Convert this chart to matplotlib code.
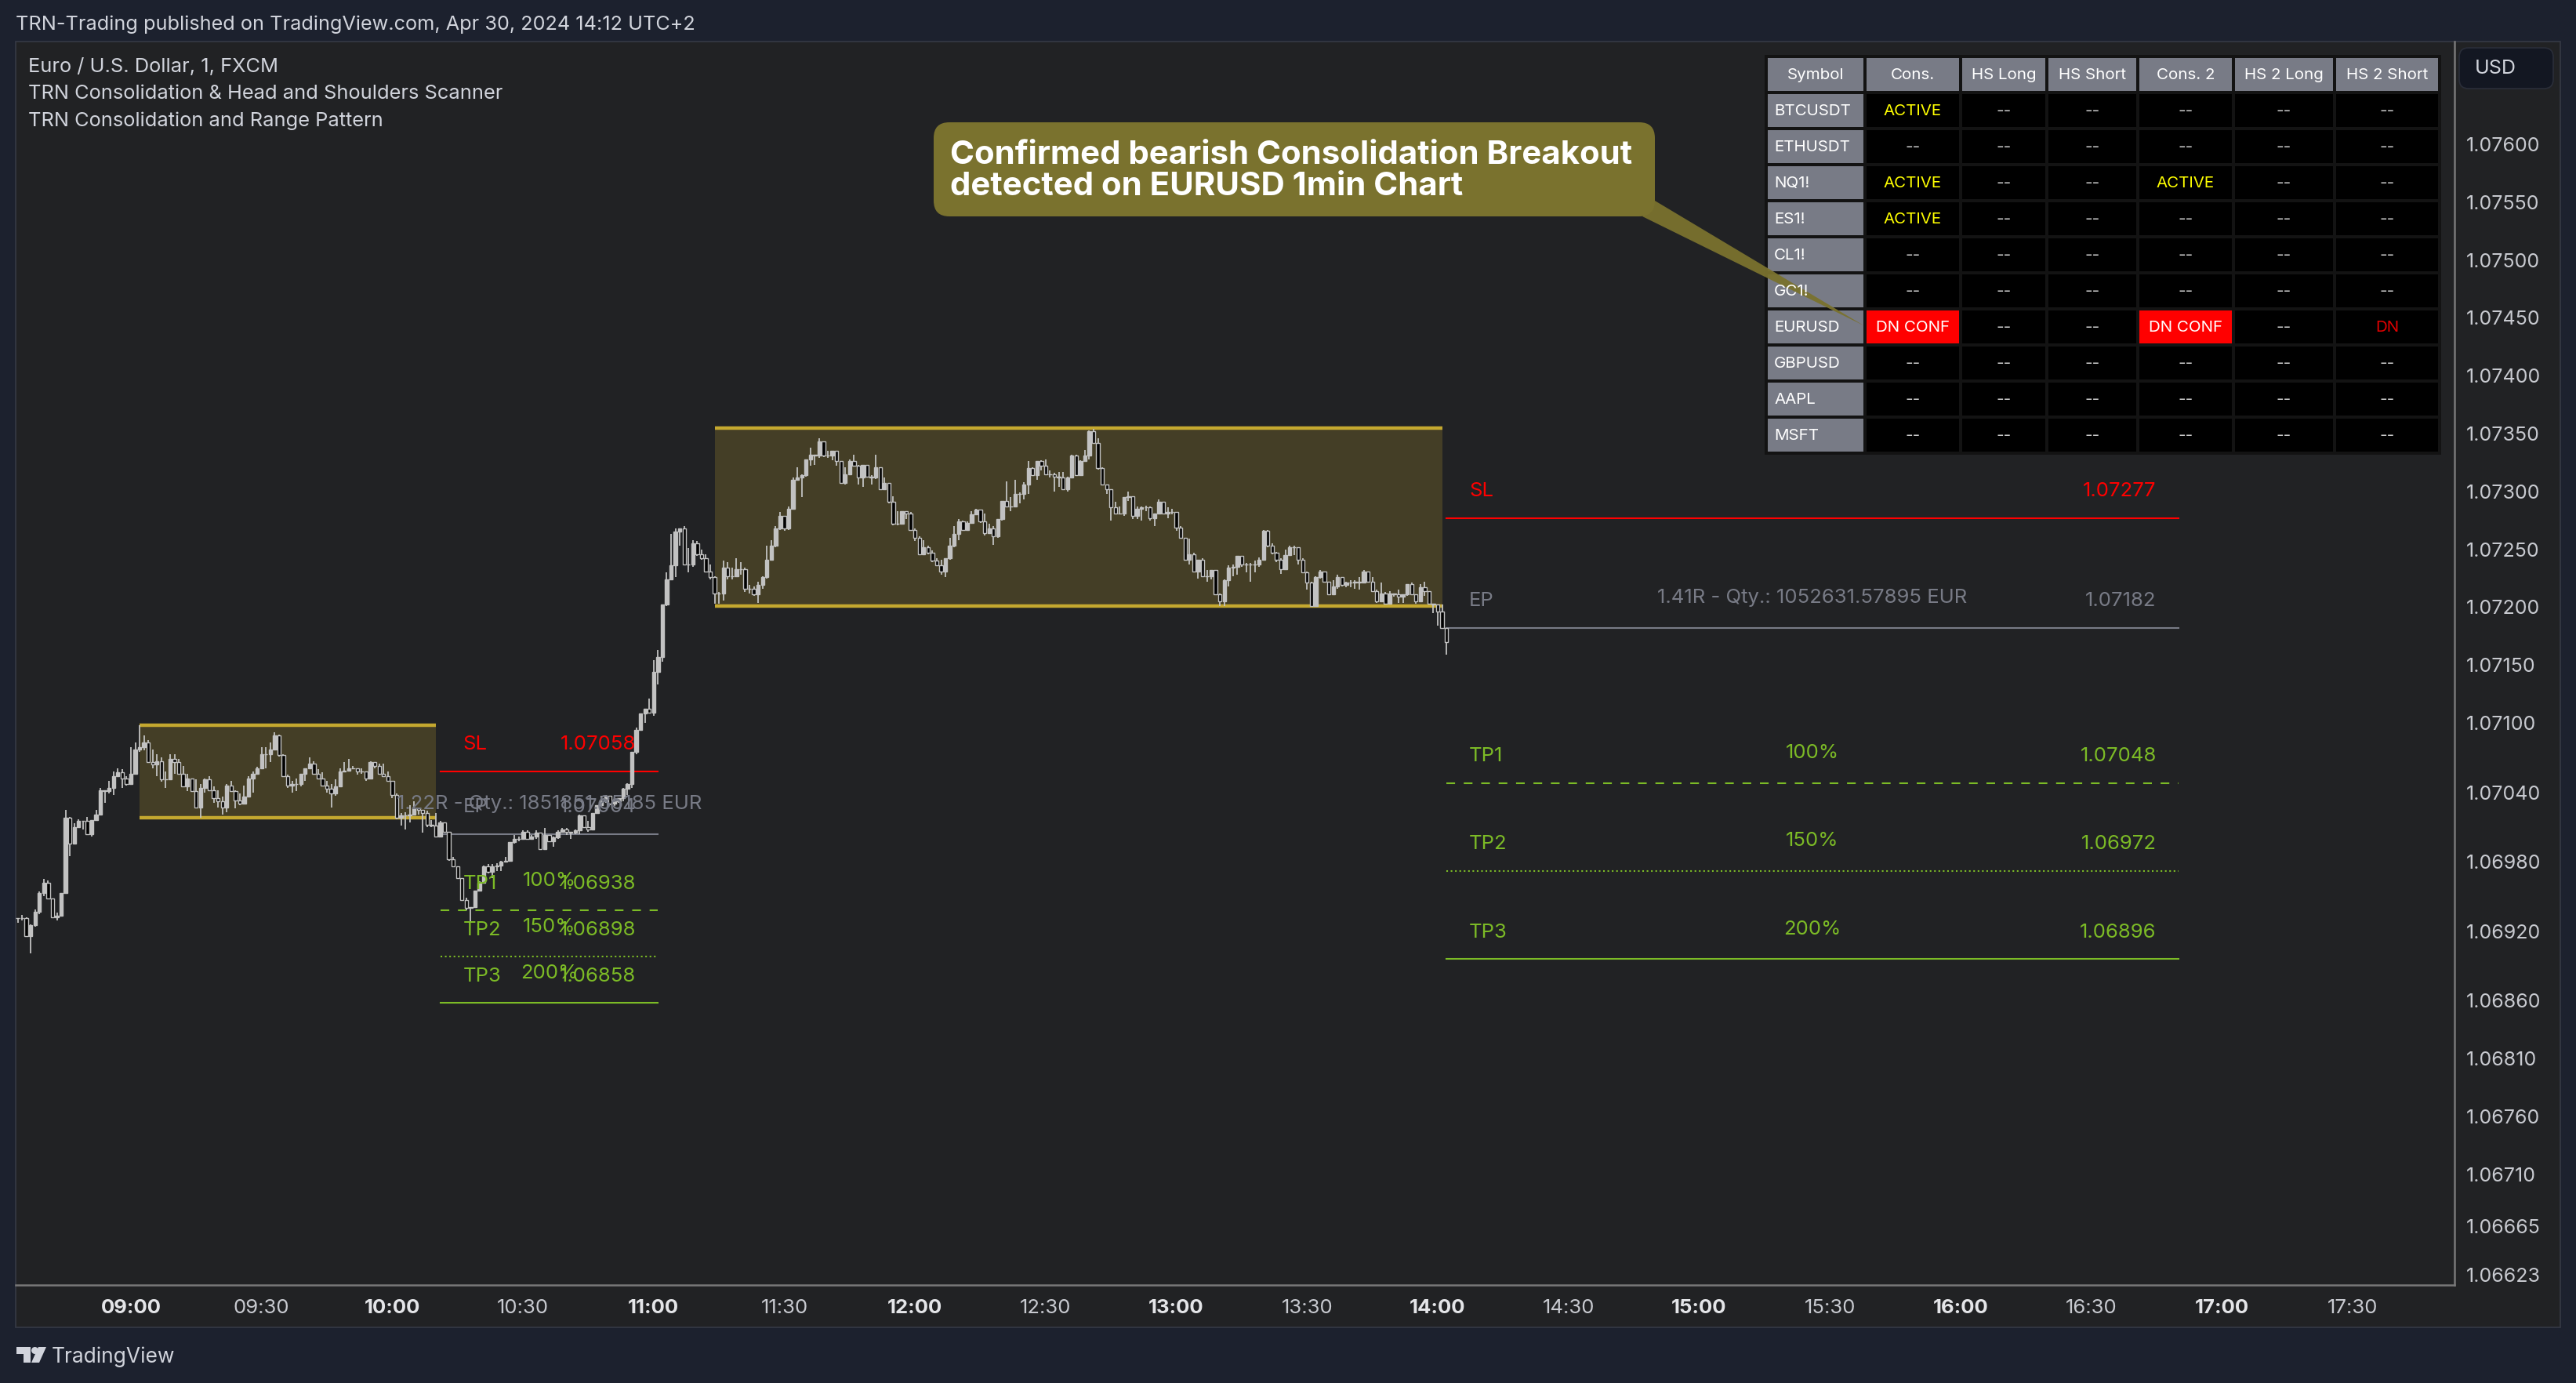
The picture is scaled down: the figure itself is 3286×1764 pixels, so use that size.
import numpy as np
import matplotlib
matplotlib.use("Agg")
import matplotlib.pyplot as plt
from matplotlib.patches import Rectangle, FancyBboxPatch, Polygon, Circle

plt.rcParams['font.family'] = ['Inter', 'DejaVu Sans']
plt.rcParams['lines.scale_dashes'] = False

# -----------------------------------------------------------------------------
# EURUSD 1 min candles. Price = 1 + value / 100000
first_minute = -26  # first candle is 08:34, minutes are counted from 09:00

closes = [
    6931,6931,6916,6925,6937,6953,6962,6948,6932,6933,
    6953,7018,6996,7010,7015,7015,7004,7016,7021,7042,
    7041,7044,7054,7057,7052,7047,7056,7077,7079,7083,
    7066,7064,7067,7051,7051,7069,7066,7056,7045,7052,
    7041,7027,7044,7051,7042,7035,7032,7027,7046,7041,
    7033,7030,7036,7052,7056,7061,7073,7073,7077,7089,
    7072,7054,7046,7047,7047,7056,7061,7065,7056,7052,
    7046,7043,7039,7045,7058,7059,7061,7061,7058,7058,
    7052,7066,7063,7056,7054,7050,7038,7018,7020,
    7020,7021,7026,7025,7022,7012,7011,7002,7014,7006,
    6982,6976,6966,6947,6940,6941,6955,6962,6976,6971,
    6976,6977,6980,6981,6997,7000,7000,7006,7000,7002,
    7005,6991,7003,6998,7001,7006,7008,7006,7005,7007,
    7020,7010,7008,7022,7029,7032,7037,7030,7032,7035,
    7043,7047,
    7075,7094,7108,7112,7109,7144,7157,7202,7224,7236,
    7265,7268,7237,7237,7255,7246,7242,7231,7226,
    7212,7212,7234,7227,7227,7233,7233,7216,7216,7211,
    7219,7226,7241,7253,7268,7279,7268,7285,7310,7312,
    7314,7328,7332,7331,7343,7331,7331,7335,7326,7307,
    7315,7326,7322,7312,7323,7313,7312,7321,7302,7307,
    7291,7272,7272,7283,7281,7267,7260,7246,7252,7247,
    7240,7236,7231,7242,7253,7263,7274,7267,7273,7280,
    7284,7274,7264,7268,7261,7276,7292,7287,7287,7298,
    7298,7306,7320,7314,7326,7322,7315,7315,7313,7312,
    7302,7312,7331,7314,7326,7331,7352,7342,7320,7306,
    7302,7286,7281,7281,7295,7296,7279,7285,7286,7286,
    7277,7281,7291,7281,7282,7282,7269,7260,7241,7246,
    7231,7241,7227,7227,7232,7211,7205,7223,7234,7235,
    7244,7237,7237,7237,7237,7241,7266,7253,7247,7241,
    7233,7245,7252,7252,7241,7230,7221,7201,7226,7231,
    7222,7211,7218,7226,7219,7221,7221,7222,7221,7231,
    7222,7214,7205,7212,7203,7212,7211,7209,7211,7220,
    7211,7205,7217,7214,7203,7202,7196,7182,7170,
]
highs = [
    6931,6934,6932,6926,6939,6954,6965,6964,6948,6936,
    6953,7025,7019,7013,7017,7015,7019,7016,7025,7044,
    7042,7050,7058,7061,7060,7054,7079,7083,7098,7089,
    7085,7077,7073,7070,7058,7073,7073,7069,7063,7056,
    7052,7051,7047,7052,7054,7045,7042,7036,7047,7050,
    7042,7039,7046,7054,7058,7062,7079,7079,7083,7092,
    7090,7073,7055,7050,7052,7056,7061,7070,7067,7060,
    7057,7050,7047,7051,7061,7066,7069,7063,7061,7061,
    7058,7067,7066,7065,7065,7058,7050,7039,7022,
    7023,7029,7032,7026,7025,7024,7016,7022,7015,7014,
    7006,6984,6976,6966,6949,6941,6955,6963,6977,6978,
    6978,6979,6981,6984,6997,7003,7002,7007,7007,7003,
    7007,7005,7009,7003,7002,7007,7009,7009,7006,7008,
    7021,7020,7015,7022,7029,7037,7038,7037,7034,7035,
    7044,7048,
    7075,7096,7108,7112,7121,7154,7163,7202,7230,7263,
    7268,7268,7270,7251,7258,7257,7250,7246,7237,
    7227,7213,7240,7239,7234,7242,7239,7234,7219,7218,
    7222,7227,7253,7258,7270,7282,7279,7287,7312,7321,
    7315,7328,7338,7332,7346,7343,7335,7335,7335,7326,
    7321,7328,7332,7323,7323,7323,7314,7332,7321,7312,
    7307,7296,7283,7283,7283,7282,7268,7261,7258,7253,
    7249,7242,7241,7242,7260,7270,7276,7275,7274,7283,
    7285,7284,7281,7272,7270,7276,7292,7309,7295,7310,
    7299,7308,7326,7321,7326,7327,7328,7318,7316,7317,
    7317,7313,7332,7332,7327,7336,7353,7354,7346,7321,
    7306,7301,7291,7287,7295,7300,7296,7287,7287,7288,
    7287,7281,7293,7291,7286,7285,7282,7270,7260,7259,
    7247,7241,7242,7232,7232,7232,7212,7224,7236,7237,
    7244,7244,7238,7238,7240,7243,7267,7267,7255,7248,
    7242,7250,7253,7253,7251,7242,7231,7222,7227,7232,
    7230,7222,7223,7228,7226,7222,7223,7223,7226,7232,
    7231,7226,7215,7221,7213,7214,7212,7215,7211,7220,
    7221,7211,7220,7222,7214,7203,7201,7202,7182,
]
lows = [
    6927,6929,6916,6901,6924,6935,6950,6948,6931,6929,
    6933,6952,6985,6995,7009,7008,7004,7002,7015,7020,
    7031,7039,7038,7054,7044,7046,7047,7056,7075,7076,
    7066,7061,7054,7049,7044,7051,7056,7056,7045,7041,
    7041,7026,7018,7040,7042,7031,7027,7021,7023,7041,
    7026,7029,7030,7036,7040,7055,7061,7061,7066,7076,
    7071,7054,7044,7040,7041,7045,7050,7060,7055,7051,
    7046,7040,7027,7037,7045,7058,7058,7060,7055,7056,
    7050,7051,7061,7056,7053,7049,7035,7017,7011,
    7008,7014,7020,7021,7005,7010,7010,7002,7002,7005,
    6981,6975,6965,6947,6938,6928,6940,6954,6961,6970,
    6966,6972,6972,6980,6980,6996,6998,7000,7000,7001,
    7000,6991,6991,6997,6993,7000,7006,7003,7000,7004,
    7004,7009,7006,7007,7022,7028,7031,7029,7028,7031,
    7032,7038,
    7044,7073,7093,7100,7108,7106,7133,7153,7201,7224,
    7226,7253,7237,7230,7235,7244,7241,7230,7224,
    7203,7203,7206,7224,7224,7226,7228,7213,7212,7210,
    7204,7216,7225,7240,7252,7267,7266,7267,7284,7310,
    7295,7313,7322,7323,7329,7330,7329,7327,7322,7307,
    7306,7314,7322,7306,7304,7312,7306,7311,7302,7302,
    7290,7271,7271,7272,7276,7267,7257,7245,7245,7246,
    7239,7236,7228,7226,7241,7252,7258,7267,7267,7272,
    7280,7273,7262,7263,7254,7260,7275,7287,7283,7287,
    7290,7293,7298,7314,7310,7318,7314,7312,7300,7304,
    7301,7300,7312,7314,7314,7326,7328,7341,7319,7306,
    7298,7275,7281,7280,7279,7292,7276,7276,7275,7283,
    7275,7270,7280,7280,7277,7280,7266,7259,7240,7237,
    7230,7225,7226,7222,7224,7211,7201,7201,7218,7227,
    7228,7235,7230,7222,7230,7235,7241,7252,7246,7239,
    7229,7232,7245,7245,7237,7230,7215,7201,7201,7225,
    7222,7211,7211,7216,7218,7217,7217,7216,7215,7221,
    7221,7213,7204,7205,7203,7203,7209,7204,7204,7210,
    7211,7203,7205,7210,7202,7195,7184,7182,7159,
]

# -----------------------------------------------------------------------------
# Consolidation boxes: start minute, end minute, bottom, top
box_starts = [2, 134]
box_ends = [70, 301]
box_bottoms = [1.07018, 1.07201]
box_tops = [1.07098, 1.07355]

# Trade levels of both setups
setup_starts = [71, 302]
setup_ends = [121, 470]
level_names = ['SL', 'EP', 'TP1', 'TP2', 'TP3']
level_prices_a = [1.07058, 1.07004, 1.06938, 1.06898, 1.06858]
level_prices_b = [1.07277, 1.07182, 1.07048, 1.06972, 1.06896]
level_notes_a = ['', '1.22R - Qty.: 1851851.85185 EUR', '100%', '150%', '200%']
level_notes_b = ['', '1.41R - Qty.: 1052631.57895 EUR', '100%', '150%', '200%']

# Axis labels
x_ticks = list(range(0, 511, 30))
x_labels = ['09:00', '09:30', '10:00', '10:30', '11:00', '11:30', '12:00', '12:30', '13:00',
            '13:30', '14:00', '14:30', '15:00', '15:30', '16:00', '16:30', '17:00', '17:30']
y_ticks = [1.07600, 1.07550, 1.07500, 1.07450, 1.07400, 1.07350, 1.07300, 1.07250, 1.07200, 1.07150,
           1.07100, 1.07040, 1.06980, 1.06920, 1.06860, 1.06810, 1.06760, 1.06710, 1.06665, 1.06623]

# Scanner table
table_columns = ['Symbol', 'Cons.', 'HS Long', 'HS Short', 'Cons. 2', 'HS 2 Long', 'HS 2 Short']
table_symbols = ['BTCUSDT', 'ETHUSDT', 'NQ1!', 'ES1!', 'CL1!', 'GC1!', 'EURUSD', 'GBPUSD', 'AAPL', 'MSFT']
table_status = {
    ('BTCUSDT', 1): 'ACTIVE', ('NQ1!', 1): 'ACTIVE', ('ES1!', 1): 'ACTIVE', ('NQ1!', 4): 'ACTIVE',
    ('EURUSD', 1): 'DN CONF', ('EURUSD', 4): 'DN CONF', ('EURUSD', 6): 'DN',
}

# Colours
outer_bg = '#1c212e'
panel_bg = '#212224'
grey_text = '#d1d4dc'
candle_grey = '#c2c2c2'
red = '#ff0000'
green = '#7cbb26'
ep_grey = '#787b86'
gold = '#c4a82f'
box_fill = '#443e26'
note_fill = '#7a722e'

# -----------------------------------------------------------------------------
W, H = 3286, 1764
fig = plt.figure(figsize=(W / 100, H / 100), dpi=100, facecolor=outer_bg)

# Page furniture lives in an axes counted in pixels
bg = fig.add_axes([0, 0, 1, 1], zorder=0)
bg.set_xlim(0, W)
bg.set_ylim(H, 0)
bg.axis('off')
bg.add_patch(Rectangle((20, 53), 3246, 1640, fc=panel_bg, ec='#363a45', lw=1.2))
bg.text(20, 31, 'TRN-Trading published on TradingView.com, Apr 30, 2024 14:12 UTC+2',
        color=grey_text, fontsize=18.2, va='center')
bg.add_patch(FancyBboxPatch((3145, 69), 104, 36, boxstyle='round,pad=8,rounding_size=12', fc='#131722', ec='#2a2e39', lw=1.2))
bg.text(3157, 88, 'USD', color=grey_text, fontsize=18, va='center')

# Logo
bg.add_patch(Polygon([(21, 1718), (39, 1718), (39, 1738), (30, 1738), (30, 1727), (21, 1727)], fc=grey_text))
bg.add_patch(Circle((44.5, 1722.5), 4.5, fc=grey_text))
bg.add_patch(Polygon([(49, 1718), (59, 1718), (50, 1738), (40, 1738)], fc=grey_text))
bg.text(66, 1731, 'TradingView', color=grey_text, fontsize=19, va='center')

# -----------------------------------------------------------------------------
# Price chart
ax = fig.add_axes([20 / W, 1 - 1639 / H, (3131 - 20) / W, (1639 - 53) / H], zorder=1)
ax.patch.set_alpha(0)
ax.set_xlim(-26.45, 533.4)
ax.set_ylim(1.066142, 1.076888)

for b0, b1, lo, hi in zip(box_starts, box_ends, box_bottoms, box_tops):
    ax.add_patch(Rectangle((b0, lo), b1 - b0, hi - lo, fc=box_fill, ec='none', zorder=1))
    ax.hlines([lo, hi], b0, b1, color=gold, lw=3.2, capstyle='butt', zorder=2)

# Levels
styles = ['-', '-', (0, (8, 8)), (0, (1.5, 2.5)), '-']
colours = [red, ep_grey, green, green, green]
for start, end, prices, notes in zip(setup_starts, setup_ends,
                                     [level_prices_a, level_prices_b],
                                     [level_notes_a, level_notes_b]):
    for name, price, note, ls, col in zip(level_names, prices, notes, styles, colours):
        ax.plot([start, end], [price, price], color=col, lw=1.5, ls=ls, zorder=2)
        ax.annotate(name, (start, price), xytext=(29, 34), textcoords='offset pixels',
                    color=col, fontsize=18.5, va='center', ha='left', zorder=5)
        ax.annotate(f'{price:.5f}', (end, price), xytext=(-28, 34), textcoords='offset pixels',
                    color=col, fontsize=18.5, va='center', ha='right', zorder=5)
        if note:
            ax.annotate(note, ((start + end) / 2, price), xytext=(0, 38), textcoords='offset pixels',
                        color=col, fontsize=18.5, va='center', ha='center', zorder=5)

# Candles
closes_p = 1 + np.array(closes) / 1e5
highs_p = 1 + np.array(highs) / 1e5
lows_p = 1 + np.array(lows) / 1e5
opens_p = np.r_[closes_p[0], closes_p[:-1]]
minutes = first_minute + np.arange(len(closes_p))
up = closes_p >= opens_p

ax.vlines(minutes, lows_p, highs_p, color=candle_grey, lw=1.3, zorder=3)
ax.bar(minutes, np.abs(closes_p - opens_p), bottom=np.minimum(opens_p, closes_p), width=0.78,
       color=np.where(up, candle_grey, '#000000'), edgecolor=candle_grey, linewidth=1.0, zorder=4)

# Axes
for side in ['top', 'left']:
    ax.spines[side].set_visible(False)
for side in ['bottom', 'right']:
    ax.spines[side].set_color('#787878')
    ax.spines[side].set_linewidth(1.8)
ax.yaxis.tick_right()
ax.set_xticks(x_ticks, x_labels)
ax.set_yticks(y_ticks, [f'{v:.5f}' for v in y_ticks])
ax.tick_params(axis='x', length=0, labelsize=18.5, labelcolor='#c8cad0', pad=13)
ax.tick_params(axis='y', length=0, labelsize=18, labelcolor='#c8cad0', pad=11)
for lab, minute in zip(ax.get_xticklabels(), x_ticks):
    if minute % 60 == 0:
        lab.set_fontweight('bold')
        lab.set_color('#e4e5e8')

# Legend lines top left
fig_top = fig.add_axes([0, 0, 1, 1], zorder=2)
fig_top.set_xlim(0, W)
fig_top.set_ylim(H, 0)
fig_top.axis('off')
legend_lines = ['Euro / U.S. Dollar, 1, FXCM', 'TRN Consolidation & Head and Shoulders Scanner',
                'TRN Consolidation and Range Pattern']
for i, line in enumerate(legend_lines):
    fig_top.text(36, 86 + i * 34, line, color=grey_text, fontsize=18.3, va='center')

# -----------------------------------------------------------------------------
# Scanner table
col_left = [2255, 2381, 2503, 2613, 2729, 2851, 2980]
col_right = [2377, 2499, 2609, 2725, 2847, 2976, 3110]
row_top = [74, 120, 166, 212, 258, 304, 350, 396, 442, 488, 534]
row_bottom = [116, 162, 208, 254, 300, 346, 392, 438, 484, 530, 576]
cell_grey = '#787b86'

fig_top.add_patch(Rectangle((2251, 70), 863, 510, fc='#131313', ec='none', zorder=1))


def cell(c, r, fill, txt, colour, left=False):
    fig_top.add_patch(Rectangle((col_left[c], row_top[r]), col_right[c] - col_left[c], row_bottom[r] - row_top[r],
                                fc=fill, ec='none', zorder=2))
    tx = col_left[c] + 8 if left else (col_left[c] + col_right[c]) / 2
    fig_top.text(tx, (row_top[r] + row_bottom[r]) / 2 + 1, txt, color=colour, fontsize=14.8, va='center',
                 ha='left' if left else 'center', zorder=6)


for c, name in enumerate(table_columns):
    cell(c, 0, cell_grey, name, '#ffffff')
for r, sym in enumerate(table_symbols, start=1):
    cell(0, r, cell_grey, sym, '#ffffff', left=True)
    for c in range(1, len(table_columns)):
        status = table_status.get((sym, c), '--')
        if status == 'ACTIVE':
            cell(c, r, '#000000', status, '#ffff00')
        elif status == 'DN CONF':
            cell(c, r, red, status, '#ffffff')
        elif status == 'DN':
            cell(c, r, '#000000', status, '#e00000')
        else:
            cell(c, r, '#000000', status, '#c8c8c8')

# Callout
fig_top.add_patch(Polygon([(2095, 276), (2111, 256), (2377, 415)], fc=note_fill, ec='none', alpha=0.95, zorder=4))
fig_top.add_patch(FancyBboxPatch((1211, 176), 880, 80, boxstyle='round,pad=20,rounding_size=20', fc=note_fill, ec='none', zorder=4))
fig_top.text(1212, 198, 'Confirmed bearish Consolidation Breakout', color='#ffffff', fontsize=30.2, fontweight='bold',
             va='center', zorder=7)
fig_top.text(1212, 238, 'detected on EURUSD 1min Chart', color='#ffffff', fontsize=30.2, fontweight='bold',
             va='center', zorder=7)

fig.savefig('out.png', dpi=100, facecolor=outer_bg)
